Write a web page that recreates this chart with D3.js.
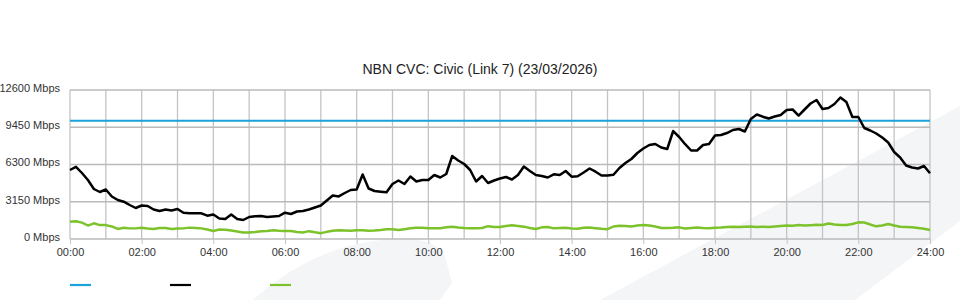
<!DOCTYPE html>
<html>
<head>
<meta charset="utf-8">
<script src="https://cdn.jsdelivr.net/npm/d3@7"></script>
<style>
    body { margin: 0; background: #fff; }
    #chart { width: 960px; height: 300px; }
    text { font-family: "Liberation Sans", Arial, sans-serif; }
</style>
</head>
<body>
<div id="chart"></div>
<script>
// one sample every 10 minutes, 00:00 .. 24:00
var stepMinutes = 10;

var capacityMbps = 10000;

var trafficIn = [
    5835, 6100, 5581, 4989, 4228, 3974, 4186, 3594, 3298, 3154, 2875, 2621,
    2833, 2790, 2494, 2368, 2494, 2410, 2537, 2224, 2173, 2173, 2173, 1970,
    2072, 1733, 1691, 2072, 1691, 1607, 1860, 1920, 1945, 1860, 1903, 1945,
    2224, 2114, 2325, 2368, 2494, 2664, 2833, 3256, 3678, 3600, 3890, 4143,
    4186, 5454, 4270, 4059, 4000, 3949, 4651, 4947, 4651, 5285, 4862, 4989,
    4989, 5412, 5200, 5496, 7018, 6638, 6342, 5835, 4862, 5327, 4735, 4947,
    5116, 5243, 5031, 5412, 6131, 5750, 5412, 5327, 5200, 5471, 5412, 5750,
    5268, 5302, 5623, 5962, 5691, 5370, 5370, 5429, 6004, 6427, 6765, 7272,
    7653, 7949, 8033, 7737, 7610, 9132, 8625, 8016, 7484, 7484, 7949, 8033,
    8750, 8794, 8963, 9217, 9302, 9090, 10147, 10528, 10342, 10189, 10359, 10485,
    10908, 10951, 10443, 10951, 11458, 11754, 10993, 11077, 11416, 11965, 11585, 10316,
    10316, 9386, 9175, 8921, 8583, 8160, 7357, 6892, 6215, 6046, 5962, 6173,
    5556
];

var trafficOut = [
    1460, 1500, 1380, 1140, 1330, 1180, 1180, 1060, 850, 950, 900, 900,
    950, 890, 850, 930, 930, 850, 890, 900, 960, 930, 900, 800,
    680, 800, 780, 720, 630, 550, 550, 590, 650, 680, 740, 700,
    676, 676, 592, 550, 660, 567, 490, 609, 693, 744, 719, 702,
    744, 736, 702, 719, 761, 820, 820, 761, 829, 905, 947, 947,
    905, 905, 905, 998, 1032, 972, 930, 905, 905, 930, 1082, 1015,
    1015, 1099, 1158, 1099, 1040, 930, 846, 989, 1015, 905, 930, 955,
    888, 871, 947, 972, 913, 863, 829, 1057, 1116, 1099, 1057, 1141,
    1184, 1141, 1057, 930, 930, 947, 989, 888, 930, 972, 930, 913,
    947, 972, 1015, 1032, 1015, 1040, 1057, 1015, 1040, 1015, 1057, 1099,
    1141, 1116, 1184, 1141, 1167, 1201, 1184, 1311, 1226, 1184, 1184, 1268,
    1412, 1395, 1226, 1074, 1141, 1268, 1141, 1040, 1015, 989, 930, 863,
    761
];

var yTicks = [0, 3150, 6300, 9450, 12600];
var xTickHours = [0, 2, 4, 6, 8, 10, 12, 14, 16, 18, 20, 22, 24];

var chartTitle = "NBN CVC: Civic (Link 7) (23/03/2026)";

function TrafficChart() {

    var self = this;

    self.initialize = function (conf) {
        self.el = document.getElementById(conf.el);
        self.graphWidth = 960;
        self.graphHeight = 300;
        self.plot = { left: 70, right: 930, top: 90, bottom: 239 };
        self.colors = { capacity: "#1ba3dd", inbound: "#000000", outbound: "#7cc22a", grid: "#c4c4c4" };
        self.render();
    }

    self.render = function () {
        self.svg = d3.select(self.el).append("svg")
            .attr("width", self.graphWidth)
            .attr("height", self.graphHeight);

        self.xScale = d3.scaleLinear()
            .domain([0, 24 * 60])
            .range([self.plot.left, self.plot.right]);

        self.yScale = d3.scaleLinear()
            .domain([0, 12600])
            .range([self.plot.bottom, self.plot.top]);

        self.renderBackground();
        self.renderGrid();
        self.renderAxes();
        self.renderLines();
        self.renderLegend();
    }

    self.renderBackground = function () {
        // pale swoosh shapes behind the chart
        self.svg.append("path")
            .attr("d", "M600,300 L960,106 L960,221 L855,300 Z")
            .attr("fill", "#f4f5f7");
        self.svg.append("path")
            .attr("d", "M253,300 Q320,240 400,239 Q440,238 446,260 L452,283 L440,300 Z")
            .attr("fill", "#f4f5f7");
    }

    self.renderGrid = function () {
        var hours = d3.range(0, 25);
        self.svg.append("g").selectAll("line")
            .data(hours)
            .enter().append("line")
            .attr("x1", function (h) { return self.xScale(h * 60); })
            .attr("x2", function (h) { return self.xScale(h * 60); })
            .attr("y1", self.plot.top)
            .attr("y2", self.plot.bottom)
            .attr("stroke", self.colors.grid)
            .attr("stroke-width", 1.3);

        self.svg.append("g").selectAll("line")
            .data(yTicks)
            .enter().append("line")
            .attr("x1", self.plot.left)
            .attr("x2", self.plot.right)
            .attr("y1", function (d) { return self.yScale(d); })
            .attr("y2", function (d) { return self.yScale(d); })
            .attr("stroke", "#bababa")
            .attr("stroke-width", 1.7);
    }

    self.renderAxes = function () {
        var xAxis = d3.axisBottom(self.xScale)
            .tickValues(xTickHours.map(function (h) { return h * 60; }))
            .tickSize(5)
            .tickPadding(4)
            .tickFormat(function (m) { return d3.format("02d")(m / 60) + ":00"; });

        var gx = self.svg.append("g")
            .attr("transform", "translate(0," + self.plot.bottom + ")")
            .call(xAxis);
        gx.select(".domain").remove();
        gx.selectAll(".tick line").attr("stroke", self.colors.grid);
        gx.selectAll(".tick text")
            .attr("fill", "#333")
            .style("font-size", "11px")
            .style("font-family", "'Liberation Sans', Arial, sans-serif");

        var yAxis = d3.axisLeft(self.yScale)
            .tickValues(yTicks)
            .tickSize(0)
            .tickPadding(10)
            .tickFormat(function (d) { return d + " Mbps"; });

        var gy = self.svg.append("g")
            .attr("transform", "translate(" + self.plot.left + ",0)")
            .call(yAxis);
        gy.select(".domain").remove();
        gy.selectAll(".tick text")
            .attr("fill", "#333")
            .attr("dy", "0.12em")
            .style("font-size", "11px")
            .style("font-family", "'Liberation Sans', Arial, sans-serif");

        self.svg.append("text")
            .attr("x", 480)
            .attr("y", 74)
            .attr("text-anchor", "middle")
            .attr("fill", "#222")
            .style("font-size", "14px")
            .text(chartTitle);
    }

    self.renderLines = function () {
        var line = d3.line()
            .x(function (d, i) { return self.xScale(i * stepMinutes); })
            .y(function (d) { return self.yScale(d); });

        self.svg.append("line")
            .attr("x1", self.plot.left)
            .attr("x2", self.plot.right)
            .attr("y1", self.yScale(capacityMbps))
            .attr("y2", self.yScale(capacityMbps))
            .attr("stroke", self.colors.capacity)
            .attr("stroke-width", 2.2);

        self.svg.append("path")
            .datum(trafficOut)
            .attr("d", line)
            .attr("fill", "none")
            .attr("stroke", self.colors.outbound)
            .attr("stroke-width", 2.4)
            .attr("stroke-linejoin", "round");

        self.svg.append("path")
            .datum(trafficIn)
            .attr("d", line)
            .attr("fill", "none")
            .attr("stroke", self.colors.inbound)
            .attr("stroke-width", 2.5)
            .attr("stroke-linejoin", "round");
    }

    self.renderLegend = function () {
        var items = [self.colors.capacity, self.colors.inbound, self.colors.outbound];
        self.svg.append("g").selectAll("line")
            .data(items)
            .enter().append("line")
            .attr("x1", function (d, i) { return 70 + i * 100; })
            .attr("x2", function (d, i) { return 91 + i * 100; })
            .attr("y1", 285)
            .attr("y2", 285)
            .attr("stroke", function (d) { return d; })
            .attr("stroke-width", 2.2);
    }
}

var chart = new TrafficChart();
chart.initialize({ el: "chart" });
</script>
</body>
</html>
